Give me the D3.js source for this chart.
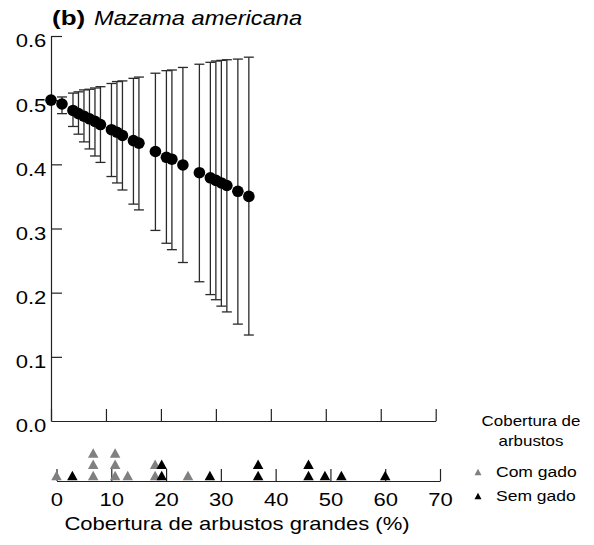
<!DOCTYPE html>
<html><head><meta charset="utf-8">
<script src="https://cdn.jsdelivr.net/npm/d3@7"></script>
<style>
body{margin:0;background:#fff}
svg{display:block}
text{font-family:"Liberation Sans",Arial,Helvetica,sans-serif;fill:#000}
</style></head>
<body><svg id="c" width="594" height="545"></svg>
<script>
// --- data ---
const coverX = [0,2,4,5,6,7,8,9,11,12,13,15,16,19,21,22,24,27,29,30,31,32,34,36];
const meanY  = [0.500,0.494,0.484,0.479,0.475,0.471,0.467,0.462,0.454,0.450,0.445,0.437,0.433,0.420,0.411,0.408,0.399,0.387,0.379,0.375,0.371,0.367,0.358,0.350];
const upperY = [0.503,0.505,0.511,0.513,0.516,0.517,0.519,0.521,0.526,0.529,0.530,0.534,0.536,0.542,0.546,0.547,0.551,0.556,0.559,0.561,0.562,0.563,0.564,0.567];
const lowerY = [0.497,0.479,0.459,0.447,0.435,0.424,0.413,0.403,0.381,0.371,0.360,0.338,0.329,0.297,0.277,0.267,0.247,0.217,0.197,0.189,0.179,0.170,0.151,0.134];
const yTicks = [0,0.1,0.2,0.3,0.4,0.5,0.6];
const xTicks = [0,10,20,30,40,50,60,70];
const comGado = [0,6.7,6.7,6.7,10.7,10.7,10.7,13,18,18,24];
const semGado = [2.9,19.2,19.2,28,36.8,36.8,46,46,49,52,60];
const legendTitle = ["Cobertura de","arbustos"];
const seriesNames = ["Com gado","Sem gado"];
const seriesColors = ["#808080","#000000"];

const SX = 1.16; // horizontal text stretch
const svg = d3.select("#c");
const x = d3.scaleLinear([0,70],[51,435.7]);
const y = d3.scaleLinear([0,0.6],[421,36]);
const xs = d3.scaleLinear([0,70],[56.5,440]);

function txt(g, str, tx, ty, size, anchor, sx, extra){
  const t = g.append("text").attr("transform",`translate(${tx},${ty}) scale(${sx||SX},1)`)
    .attr("font-size",size).attr("text-anchor",anchor||"start").text(str);
  if(extra) extra(t);
  return t;
}

// y axis
const ya = svg.append("g").attr("transform","translate(51,0)")
  .call(d3.axisLeft(y).tickValues(yTicks).tickSize(-11).tickSizeOuter(0).tickPadding(4).tickFormat(d3.format(".1f")));
ya.selectAll("text").attr("font-size",19).attr("font-family","Liberation Sans, Arial").attr("fill","#000")
  .attr("transform",`scale(${SX},1)`).attr("dy","0.36em").attr("y",4);
ya.selectAll("line,path").attr("stroke","#222").attr("stroke-width",1.2);
ya.select(".tick:first-of-type line").remove();

// upper x axis
const xa = svg.append("g").attr("transform","translate(0,421)")
  .call(d3.axisBottom(x).tickValues(xTicks).tickSize(-12).tickSizeOuter(0).tickFormat(""));
xa.selectAll("line,path").attr("stroke","#222").attr("stroke-width",1.2);

// lower strip axis
const la = svg.append("g").attr("transform","translate(0,481)")
  .call(d3.axisBottom(xs).tickValues(xTicks).tickSize(-12).tickSizeOuter(0).tickPadding(12).tickFormat(d3.format("d")));
la.selectAll("line,path").attr("stroke","#222").attr("stroke-width",1.2);
la.selectAll("text").attr("font-size",19).attr("font-family","Liberation Sans, Arial").attr("fill","#000")
  .attr("transform",`scale(${SX},1)`);

// error bars
const eb = svg.append("g").attr("stroke","#2a2a2a").attr("stroke-width",1.3).attr("fill","none");
coverX.forEach((c,i)=>{
  const px = x(c);
  eb.append("line").attr("x1",px).attr("x2",px).attr("y1",y(upperY[i])).attr("y2",y(lowerY[i]));
  eb.append("line").attr("x1",px-5).attr("x2",px+5).attr("y1",y(upperY[i])).attr("y2",y(upperY[i]));
  eb.append("line").attr("x1",px-5).attr("x2",px+5).attr("y1",y(lowerY[i])).attr("y2",y(lowerY[i]));
});
// points
svg.append("g").selectAll("circle").data(coverX).join("circle")
  .attr("cx",d=>x(d)).attr("cy",(d,i)=>y(meanY[i])).attr("r",5.8).attr("fill","#000");

// triangles in strip
function tri(cx, cy, w, h){
  return `M${cx-w/2},${cy+h/2}L${cx},${cy-h/2}L${cx+w/2},${cy+h/2}Z`;
}
function stackRows(arr){
  const cnt = new Map();
  return arr.map(v=>{ const k=cnt.get(v)||0; cnt.set(v,k+1); return {v,row:k}; });
}
[comGado, semGado].forEach((arr,si)=>{
  svg.append("g").selectAll("path").data(stackRows(arr)).join("path")
    .attr("d",d=>tri(xs(d.v), 475.5 - d.row*11.3, 10.5, 9.5))
    .attr("fill",seriesColors[si]);
});

// title
const tg = svg.append("g");
txt(tg,"(b)",52,25,20,"start",1.3,t=>t.attr("font-weight","bold"));
txt(tg,"Mazama americana",94,25,21,"start",1.13,t=>t.attr("font-style","italic"));

// x axis title
txt(svg,"Cobertura de arbustos grandes (%)",237,530,19,"middle");

// legend
txt(svg,legendTitle[0],531,426,14.6,"middle");
txt(svg,legendTitle[1],531,446,14.6,"middle");
seriesNames.forEach((n,i)=>{
  const cy = 472 + i*24;
  svg.append("path").attr("d",tri(478,cy,7,6.5)).attr("fill",seriesColors[i]);
  txt(svg,n,496,cy+5.2,14.6,"start",1.2);
});
</script></body></html>
